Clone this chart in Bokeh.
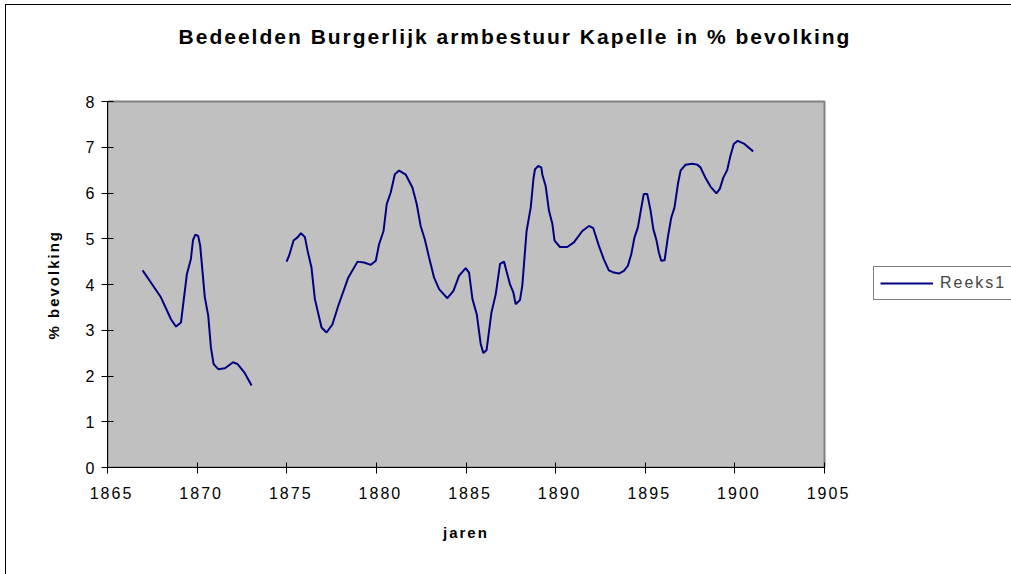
from bokeh.plotting import figure
from bokeh.models import (Range1d, FixedTicker, Legend, LegendItem, ColumnDataSource,
                          Label, Title)
from bokeh.embed import file_html
from bokeh.resources import INLINE

nan = float("nan")

title_text = "Bedeelden Burgerlijk armbestuur Kapelle in % bevolking"
x_label = "jaren"
y_label = "% bevolking"
series_name = "Reeks1"
x_ticks = [1865, 1870, 1875, 1880, 1885, 1890, 1895, 1900, 1905]
y_ticks = [0, 1, 2, 3, 4, 5, 6, 7, 8]

years = [
    1866.96, 1867.98, 1868.26, 1868.54, 1868.82, 1869.10, 1869.43, 1869.65, 1869.77,
    1869.90, 1870.06, 1870.17, 1870.43, 1870.62, 1870.77, 1870.92, 1871.18, 1871.55,
    1872.01, 1872.26, 1872.63, 1873.04,
    1874.00,
    1874.99, 1875.13, 1875.38, 1875.60, 1875.79, 1876.01, 1876.16, 1876.38, 1876.57,
    1876.81, 1876.94, 1877.22, 1877.55, 1877.87, 1878.42, 1878.95, 1879.31, 1879.69,
    1879.97, 1880.15, 1880.40, 1880.58, 1880.80, 1881.03, 1881.27, 1881.64, 1882.01,
    1882.25, 1882.47, 1882.70, 1882.94, 1883.22, 1883.50, 1883.96, 1884.30, 1884.61,
    1884.98, 1885.17, 1885.36, 1885.60, 1885.82, 1885.97, 1886.15, 1886.42, 1886.66,
    1886.90, 1887.12, 1887.45, 1887.64, 1887.77, 1888.01, 1888.14, 1888.38, 1888.61,
    1888.76, 1888.85, 1889.03, 1889.20, 1889.26, 1889.44, 1889.63, 1889.82, 1889.94,
    1890.24, 1890.65, 1891.02, 1891.49, 1891.86, 1892.10, 1892.41, 1892.69, 1892.97,
    1893.25, 1893.53, 1893.81, 1894.03, 1894.22, 1894.40, 1894.59, 1894.78, 1894.92,
    1895.11, 1895.30, 1895.45, 1895.63, 1895.76, 1895.89, 1896.08, 1896.26, 1896.45,
    1896.63, 1896.82, 1896.97, 1897.25, 1897.62, 1897.90, 1898.08, 1898.35, 1898.64,
    1898.97, 1899.16, 1899.35, 1899.57, 1899.75, 1899.94, 1900.16, 1900.50, 1901.02,
]
percent = [
    4.31, 3.72, 3.48, 3.24, 3.08, 3.17, 4.23, 4.55, 4.97,
    5.09, 5.06, 4.85, 3.72, 3.32, 2.62, 2.26, 2.15, 2.17,
    2.30, 2.26, 2.08, 1.79,
    nan,
    4.50, 4.63, 4.96, 5.03, 5.12, 5.04, 4.74, 4.37, 3.68,
    3.28, 3.06, 2.95, 3.13, 3.53, 4.14, 4.50, 4.48, 4.43,
    4.52, 4.88, 5.17, 5.76, 6.01, 6.41, 6.49, 6.40, 6.12,
    5.76, 5.28, 4.99, 4.59, 4.15, 3.90, 3.70, 3.86, 4.19,
    4.36, 4.26, 3.68, 3.35, 2.70, 2.50, 2.57, 3.39, 3.79,
    4.45, 4.50, 4.01, 3.83, 3.57, 3.66, 3.97, 5.17, 5.68,
    6.30, 6.52, 6.59, 6.56, 6.40, 6.16, 5.61, 5.32, 4.96,
    4.82, 4.82, 4.92, 5.17, 5.28, 5.23, 4.85, 4.55, 4.31,
    4.26, 4.24, 4.30, 4.41, 4.66, 5.03, 5.25, 5.68, 5.98,
    5.98, 5.61, 5.21, 4.96, 4.70, 4.52, 4.53, 5.03, 5.46,
    5.68, 6.19, 6.49, 6.62, 6.64, 6.62, 6.56, 6.34, 6.14,
    5.99, 6.09, 6.33, 6.50, 6.81, 7.07, 7.14, 7.08, 6.91,
]

FONT = "Liberation Sans"
LS = 2  # letter spacing (px) applied to all texts via CSS

# page geometry (pixels) of the grey plot area
W, H = 1011, 574
AREA_LEFT, AREA_RIGHT, AREA_TOP, AREA_BOTTOM = 107, 824, 101, 467
x_min, x_max = x_ticks[0], x_ticks[-1]
y_min, y_max = y_ticks[0], y_ticks[-1]
# the frame spans the canvas to the right and top so that title and legend are not clipped
x_end = x_min + (W - AREA_LEFT) * (x_max - x_min) / (AREA_RIGHT - AREA_LEFT)
y_end = y_min + AREA_BOTTOM * (y_max - y_min) / (AREA_BOTTOM - AREA_TOP)

p = figure(
    width=W, height=H, title=None,
    x_range=Range1d(x_min, x_end), y_range=Range1d(y_min, y_end),
    output_backend="svg", toolbar_location=None,
    min_border_left=AREA_LEFT, min_border_right=0,
    min_border_top=0, min_border_bottom=H - AREA_BOTTOM,
    background_fill_color="white", background_fill_alpha=0.0,
    border_fill_color="white", border_fill_alpha=0.0,
    outline_line_color=None,
)
# chart-area frame line (left/top) behind the transparent canvas, plus text spacing
p.styles = {
    "background": ("linear-gradient(#000,#000) 5px 4px / 1px 700px no-repeat, "
                   "linear-gradient(#000,#000) 5px 4px / 1200px 1px no-repeat, #ffffff"),
    "letter-spacing": f"{LS}px",
}

p.grid.visible = False

# grey plot area
p.quad(left=[x_min], right=[x_max], bottom=[y_min], top=[y_max],
       fill_color="#C0C0C0", line_color="#808080", line_width=2)

for ax in (p.xaxis, p.yaxis):
    ax.axis_line_color = "black"
    ax.axis_line_width = 1
    ax.major_tick_line_color = "black"
    ax.minor_tick_line_color = None
    ax.major_label_text_font = FONT
    ax.major_label_text_font_size = "16px"
    ax.major_label_text_color = "black"

p.xaxis.bounds = (x_min, x_max)
p.yaxis.bounds = (y_min, y_max)
p.xaxis.ticker = FixedTicker(ticks=x_ticks)
p.yaxis.ticker = FixedTicker(ticks=y_ticks)
p.xaxis.major_tick_in = 5
p.xaxis.major_tick_out = 6
p.yaxis.major_tick_in = 6
p.yaxis.major_tick_out = 6
p.xaxis.major_label_standoff = 13
p.yaxis.major_label_standoff = 7

src = ColumnDataSource(data=dict(x=years, y=percent))
r = p.line("x", "y", source=src, line_color="#000080", line_width=2)

# chart title, in screen px relative to the frame's bottom-left corner;
# bokeh anchors text by its own measured width, so half the added letter spacing is compensated
title = Label(
    x=514.5 - AREA_LEFT - len(title_text) * LS / 2, y=AREA_BOTTOM - 42.7 + 7,
    x_units="screen", y_units="screen",
    text=title_text, text_align="center", text_baseline="alphabetic",
    text_font=FONT, text_font_size="21px", text_font_style="bold", text_color="black",
)
p.add_layout(title)

# axis titles, placed in the side panels and centred on the grey plot area
xlab_w = 46
xlab = Title(
    text=x_label, align="left",
    offset=(AREA_LEFT + AREA_RIGHT) / 2 - AREA_LEFT - xlab_w / 2, standoff=40,
    text_font=FONT, text_font_size="15px", text_font_style="bold", text_color="black",
)
p.add_layout(xlab, "below")

ylab_w = 110
ylab = Title(
    text=y_label, align="left",
    offset=(AREA_BOTTOM - AREA_TOP) / 2 - ylab_w / 2, standoff=41,
    text_font=FONT, text_font_size="15px", text_font_style="bold", text_color="black",
)
p.add_layout(ylab, "left")

legend = Legend(
    items=[LegendItem(label=series_name, renderers=[r])],
    location=(873 - AREA_LEFT, AREA_BOTTOM - 300),
    border_line_color="black", border_line_width=1,
    background_fill_color="white", background_fill_alpha=1.0,
    padding=6, margin=0, spacing=0,
    glyph_width=53, glyph_height=20, label_standoff=7, label_width=110,
    label_text_font=FONT, label_text_font_size="16px", label_height=20,
)
p.add_layout(legend)

open("out.html", "w").write(file_html(p, INLINE))
